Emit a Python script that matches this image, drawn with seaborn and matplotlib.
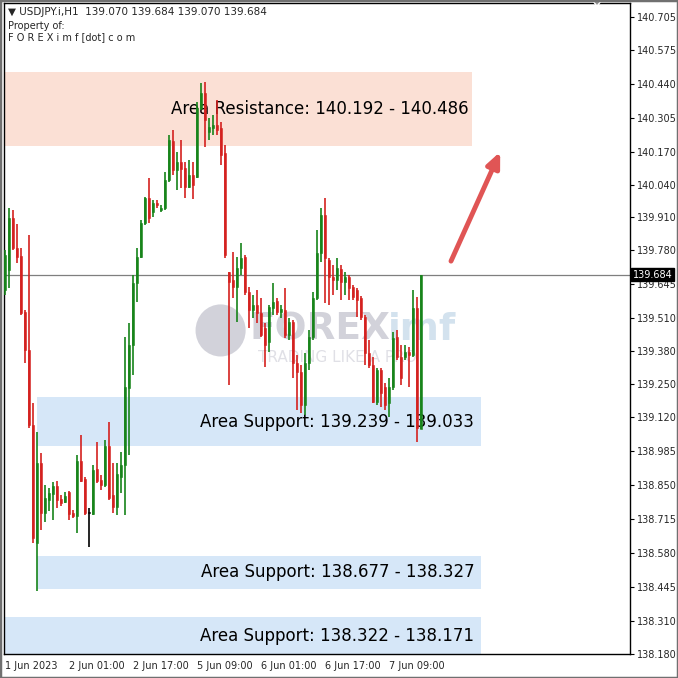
import numpy as np
import pandas as pd
import matplotlib
matplotlib.use("Agg")
import matplotlib.pyplot as plt
import seaborn as sns
from matplotlib.patches import Rectangle, Circle

# H1 candles, USDJPY, 1 Jun 2023 -> 7 Jun 2023
opens = [139.622, 139.702, 139.908, 139.789, 139.757, 139.535, 139.385, 139.087, 138.620, 138.937,
         138.738, 138.790, 138.814, 138.846, 138.794, 138.782, 138.822, 138.738, 138.727, 138.945,
         138.873, 138.738, 138.735, 138.913, 138.869, 138.849, 139.004, 138.810, 138.762, 138.881,
         138.929, 139.234, 139.404, 139.650, 139.753, 139.888, 139.987, 139.932, 139.967, 139.940,
         139.947, 140.058, 140.213, 140.098, 140.130, 140.106, 140.031, 140.078, 140.070, 140.344,
         140.403, 140.249, 140.265, 140.277, 140.265, 140.166, 139.694, 139.662, 139.634, 139.710,
         139.753, 139.615, 139.543, 139.563, 139.531, 139.472, 139.416, 139.551, 139.579, 139.535,
         139.543, 139.444, 139.496, 139.333, 139.297, 139.167, 139.333, 139.436, 139.591, 139.769,
         139.920, 139.741, 139.674, 139.662, 139.706, 139.654, 139.674, 139.634, 139.622, 139.591,
         139.515, 139.373, 139.325, 139.178, 139.305, 139.238, 139.175, 139.238, 139.436, 139.357,
         139.357, 139.377, 139.365, 139.551, 139.070]
highs = [139.781, 139.947, 139.940, 139.884, 139.789, 139.543, 139.840, 139.175, 139.060, 138.976,
         138.849, 138.838, 138.861, 138.865, 138.810, 138.822, 138.826, 138.750, 138.968, 139.048,
         138.881, 138.758, 138.929, 139.020, 138.889, 139.028, 139.099, 138.937, 138.937, 138.980,
         139.436, 139.492, 139.682, 139.789, 139.900, 139.991, 140.066, 139.979, 139.979, 139.959,
         140.090, 140.237, 140.257, 140.169, 140.217, 140.130, 140.138, 140.130, 140.368, 140.443,
         140.447, 140.304, 140.316, 140.376, 140.288, 140.197, 139.694, 139.773, 139.753, 139.809,
         139.761, 139.634, 139.603, 139.622, 139.591, 139.492, 139.563, 139.650, 139.591, 139.563,
         139.630, 139.511, 139.504, 139.365, 139.325, 139.373, 139.464, 139.615, 139.860, 139.947,
         139.987, 139.749, 139.722, 139.749, 139.722, 139.694, 139.682, 139.642, 139.630, 139.599,
         139.523, 139.424, 139.357, 139.313, 139.313, 139.254, 139.274, 139.456, 139.464, 139.404,
         139.404, 139.396, 139.622, 139.595, 139.684]
lows = [139.603, 139.630, 139.781, 139.729, 139.523, 139.333, 139.075, 138.620, 138.429, 138.671,
        138.703, 138.746, 138.711, 138.758, 138.766, 138.778, 138.711, 138.719, 138.659, 138.861,
        138.731, 138.604, 138.731, 138.857, 138.830, 138.842, 138.790, 138.738, 138.731, 138.818,
        138.731, 138.968, 139.286, 139.575, 139.749, 139.880, 139.888, 139.912, 139.947, 139.932,
        139.940, 140.051, 140.078, 140.019, 140.027, 139.987, 140.027, 139.983, 140.066, 140.336,
        140.189, 140.217, 140.237, 140.237, 140.118, 139.749, 139.246, 139.591, 139.496, 139.682,
        139.603, 139.472, 139.511, 139.492, 139.436, 139.317, 139.377, 139.523, 139.523, 139.511,
        139.432, 139.424, 139.274, 139.147, 139.135, 139.127, 139.305, 139.424, 139.583, 139.733,
        139.571, 139.563, 139.603, 139.622, 139.583, 139.603, 139.583, 139.583, 139.515, 139.504,
        139.325, 139.313, 139.175, 139.167, 139.159, 139.147, 139.119, 139.226, 139.345, 139.246,
        139.345, 139.238, 139.357, 139.020, 139.070]
closes = [139.761, 139.908, 139.789, 139.753, 139.531, 139.385, 139.087, 138.639, 138.937, 138.738,
          138.798, 138.818, 138.846, 138.790, 138.778, 138.806, 138.735, 138.727, 138.945, 138.865,
          138.738, 138.738, 138.909, 138.865, 138.849, 139.004, 138.798, 138.762, 138.893, 138.929,
          139.238, 139.404, 139.650, 139.753, 139.888, 139.987, 139.908, 139.967, 139.959, 139.947,
          140.058, 140.217, 140.098, 140.130, 140.102, 140.031, 140.078, 140.039, 140.344, 140.403,
          140.296, 140.269, 140.277, 140.257, 140.158, 139.761, 139.654, 139.634, 139.710, 139.749,
          139.615, 139.543, 139.563, 139.531, 139.444, 139.404, 139.555, 139.575, 139.535, 139.547,
          139.444, 139.496, 139.333, 139.297, 139.167, 139.333, 139.436, 139.591, 139.769, 139.920,
          139.749, 139.674, 139.662, 139.710, 139.654, 139.674, 139.630, 139.595, 139.583, 139.515,
          139.373, 139.325, 139.178, 139.305, 139.214, 139.167, 139.238, 139.432, 139.357, 139.274,
          139.377, 139.365, 139.551, 139.075, 139.684]

x_ticks = [0, 16, 32, 48, 64, 80, 96]
x_labels = ["1 Jun 2023", "2 Jun 01:00", "2 Jun 17:00", "5 Jun 09:00",
            "6 Jun 01:00", "6 Jun 17:00", "7 Jun 09:00"]
y_ticks = [140.705, 140.575, 140.440, 140.305, 140.170, 140.040, 139.910, 139.780, 139.645, 139.510,
           139.380, 139.250, 139.120, 138.985, 138.850, 138.715, 138.580, 138.445, 138.310, 138.180]

last_price = 139.684

# zones: (x start, x end, price low, price high, label)
zones = [
    (-0.25, 116.75, 140.192, 140.486, "Area Resistance: 140.192 - 140.486"),
    (8.0, 119.0, 139.003, 139.198, "Area Support: 139.239 - 139.033"),
    (8.0, 119.0, 138.439, 138.570, "Area Support: 138.677 - 138.327"),
    (-0.25, 119.0, 138.100, 138.327, "Area Support: 138.322 - 138.171"),
]
zone_colors = ["#fbe0d5", "#d6e7f8", "#d6e7f8", "#d6e7f8"]
label_right = [116.0, 117.3, 117.3, 117.3]
label_y = [140.339, 139.100, 138.504, 138.250]

df = pd.DataFrame({"open": opens, "high": highs, "low": lows, "close": closes})
df["bar"] = np.arange(len(df))

sns.set_style("white")
plt.rcParams["font.family"] = ["DejaVu Sans"]

fig = plt.figure(figsize=(6.78, 6.78), dpi=100)
ax = fig.add_axes([4 / 678, 24 / 678, 626 / 678, 651 / 678])

GREEN = "#17841a"
RED = "#d4211f"
colors = np.where(df["close"] > df["open"], GREEN, np.where(df["close"] < df["open"], RED, "black"))

# zones + labels
for (x0, x1, lo, hi, label), zc, lx, ly in zip(zones, zone_colors, label_right, label_y):
    ax.add_patch(Rectangle((x0, lo), x1 - x0, hi - lo, facecolor=zc, edgecolor="none", zorder=0))
    ax.text(lx, ly, label, ha="right", va="center", fontsize=12, color="black", zorder=2)

# watermark
ax.add_patch(Circle((0.346, 0.497), 0.04, transform=ax.transAxes, facecolor="#d2d2da",
                    edgecolor="none", zorder=1))
ax.text(0.392, 0.498, "FOREX", transform=ax.transAxes, fontsize=27, fontweight="bold",
        color="#d2d2da", va="center", ha="left", zorder=1)
ax.text(0.614, 0.498, "imf", transform=ax.transAxes, fontsize=27, fontweight="bold",
        color="#d3e2ee", va="center", ha="left", zorder=1)
ax.text(0.405, 0.456, "TRADING LIKE A PRO", transform=ax.transAxes, fontsize=11,
        color="#e0e0e6", va="center", ha="left", zorder=1)

# current price line
ax.axhline(last_price, color="#7f7f7f", lw=0.9, zorder=1)

# candles
ax.vlines(df["bar"], df["low"], df["high"], colors=colors, lw=1.2, zorder=3)
body_lo = df[["open", "close"]].min(axis=1)
body_h = (df["close"] - df["open"]).abs().clip(lower=0.004)
ax.bar(df["bar"], body_h, bottom=body_lo, width=0.72, color=colors, edgecolor=colors,
       linewidth=0.4, zorder=3)

# forecast arrow
ax.annotate("", xy=(123.8, 140.170), xytext=(111.5, 139.737),
            arrowprops=dict(arrowstyle="-|>,head_length=0.9,head_width=0.4", color="#e05555",
                            lw=3.5, shrinkA=0, shrinkB=0), zorder=4)

ax.set_xlim(-0.25, 156.25)
ax.set_ylim(138.180, 140.760)

ax.yaxis.tick_right()
ax.set_yticks(y_ticks)
ax.set_yticklabels([f"{v:.3f}" for v in y_ticks])
ax.set_xticks(x_ticks)
ax.set_xticklabels(x_labels)
plt.setp(ax.get_xticklabels(), ha="left")
ax.tick_params(axis="x", direction="out", length=3, labelsize=7, pad=2, color="black")
ax.tick_params(axis="y", direction="out", length=3, labelsize=7, pad=2, color="black")
for s in ax.spines.values():
    s.set_color("black")
    s.set_linewidth(1)
ax.grid(False)

# last price tag
ax.text(1.004, last_price, f"{last_price:.3f}", transform=ax.get_yaxis_transform(), ha="left",
        va="center", fontsize=7, color="white",
        bbox=dict(facecolor="black", edgecolor="black", pad=1.2), zorder=5, clip_on=False)

# header
fig.text(8 / 678, 1 - 12 / 678, "\u25bc USDJPY.i,H1  139.070 139.684 139.070 139.684",
         fontsize=7.5, va="center", ha="left")
fig.text(8 / 678, 1 - 26 / 678, "Property of:", fontsize=7, va="center", ha="left")
fig.text(8 / 678, 1 - 37 / 678, "F O R E X i m f [dot] c o m", fontsize=7, va="center", ha="left")

# chart shift marker
fig.patches.append(plt.Polygon([[592 / 678, 1], [602 / 678, 1], [597 / 678, 1 - 6 / 678]],
                               closed=True, transform=fig.transFigure, facecolor="#8c8c8c"))
fig.patches.append(Rectangle((0, 0), 1, 1, transform=fig.transFigure, fill=False,
                             edgecolor="#707070", lw=2.5))

fig.savefig("out.png", dpi=100)
